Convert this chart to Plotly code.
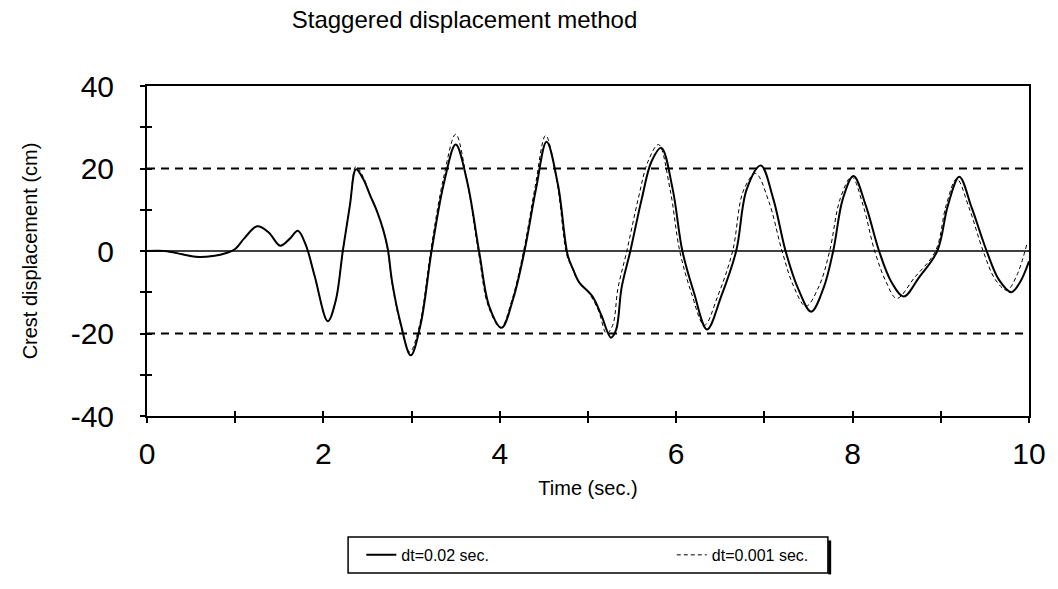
import plotly.graph_objects as go

# Crest displacement history, time step dt = 0.02 s
t_coarse = [0, 0.2, 0.4, 0.55, 0.75, 0.9, 1.0, 1.1, 1.25, 1.38, 1.51, 1.62, 1.71, 1.8, 1.9,
            2.05, 2.14, 2.22, 2.3, 2.37, 2.45, 2.53, 2.61, 2.68, 2.73, 2.78, 2.87, 2.99,
            3.1, 3.23, 3.37, 3.5, 3.63, 3.77, 3.88, 4.02, 4.15, 4.28, 4.41, 4.53, 4.66,
            4.77, 4.83, 4.9, 5.05, 5.15, 5.26, 5.32, 5.38, 5.48, 5.61, 5.72, 5.83, 5.96,
            6.07, 6.2, 6.35, 6.51, 6.68, 6.8, 6.96, 7.1, 7.24, 7.38, 7.53, 7.67, 7.78,
            7.89, 8.01, 8.15, 8.3, 8.44, 8.58, 8.75, 8.96, 9.08, 9.21, 9.35, 9.52, 9.66,
            9.8, 9.9, 10.0]
d_coarse = [0, 0, -0.8, -1.4, -1.2, -0.5, 0.5, 3, 6, 4.5, 1.3, 3, 4.9, 1.5, -6,
            -17, -12, 0, 11, 19.8, 17.5, 13.5, 9.5, 5, 0.5, -7.6, -17, -25.3,
            -18, 0.5, 16.8, 25.8, 16.8, -0.7, -13.4, -18.6, -11.7, 0, 15, 26.5, 16,
            -1, -4.4, -7.6, -11, -15.5, -21, -19, -9, 0, 12.7, 21.7, 25, 15,
            0, -10, -19, -11, 0, 15, 20.7, 12.7, 0, -9, -14.7, -9, 0,
            12.7, 18.2, 11, 0, -7.5, -11, -6.5, 0, 11, 18, 10.5, 0, -7,
            -10, -7.5, -2.5]

# Crest displacement history, time step dt = 0.001 s
t_fine = [0, 0.2, 0.4, 0.55, 0.75, 0.9, 1.0, 1.1, 1.25, 1.38, 1.51, 1.62, 1.71, 1.8, 1.9,
          2.05, 2.14, 2.22, 2.3, 2.37, 2.45, 2.53, 2.61, 2.68, 2.73, 2.78, 2.87, 2.98,
          3.09, 3.22, 3.36, 3.5, 3.62, 3.76, 3.87, 4.01, 4.14, 4.27, 4.4, 4.52, 4.65,
          4.76, 4.82, 4.88, 5.02, 5.12, 5.21, 5.28, 5.34, 5.44, 5.57, 5.68, 5.8, 5.93,
          6.04, 6.17, 6.32, 6.47, 6.64, 6.76, 6.9, 7.05, 7.2, 7.33, 7.47, 7.62, 7.74,
          7.86, 7.99, 8.12, 8.25, 8.38, 8.5, 8.7, 8.94, 9.06, 9.18, 9.32, 9.48, 9.62,
          9.75, 9.86, 9.98]
d_fine = [0, 0, -0.8, -1.4, -1.2, -0.5, 0.5, 3, 6, 4.5, 1.3, 3, 4.9, 1.5, -6,
          -17, -12, 0, 11, 20.5, 18, 13.5, 9.5, 5, 0, -8, -17.5, -24.5,
          -18, 0.5, 17.5, 28.3, 18, -0.5, -13.4, -18.6, -11.7, 0, 15.5, 28, 16.5,
          -1, -4, -7, -10.5, -14.5, -20, -18, -9, 0, 12.7, 21.7, 25.8, 15,
          0, -10, -18, -11, 0, 14.5, 18.8, 12, 0, -8.5, -13.4, -8.5, 0,
          12.7, 18, 11, 0, -7.5, -11.5, -6.5, 0, 11, 17.5, 10.5, 0, -7,
          -9.5, -6, 2]

# Reference levels: zero line and +/-20 cm limits
zero_level = [0]
limit_levels = [20, -20]
time_span = [0, 10]

x_ticks = [0, 2, 4, 6, 8, 10]
y_ticks = [-40, -20, 0, 20, 40]
y_tick_text = [str(v) for v in y_ticks]

FONT = "Liberation Sans, Arial, sans-serif"

fig = go.Figure()

fig.add_trace(go.Scatter(
    x=t_coarse, y=d_coarse, mode="lines", name="dt=0.02 sec.", legend="legend",
    line=dict(color="black", width=2, shape="spline", smoothing=1.0),
))
fig.add_trace(go.Scatter(
    x=t_fine, y=d_fine, mode="lines", name="dt=0.001 sec.", legend="legend2",
    line=dict(color="black", width=1, dash="4px,3px", shape="spline", smoothing=1.0),
))

# reference levels drawn on an overlay axis pair (which also carries the inner tick marks)
for lvl in zero_level:
    fig.add_trace(go.Scatter(
        x=time_span, y=[lvl, lvl], mode="lines", xaxis="x2", yaxis="y2",
        line=dict(color="black", width=1.5), showlegend=False, hoverinfo="skip",
    ))
for lvl in limit_levels:
    fig.add_trace(go.Scatter(
        x=time_span, y=[lvl, lvl], mode="lines", xaxis="x2", yaxis="y2",
        line=dict(color="black", width=1.8, dash="8px,6px"), showlegend=False,
        hoverinfo="skip",
    ))

axis_common = dict(showgrid=False, zeroline=False, color="black")
legend_common = dict(orientation="h", xanchor="left", y=-0.421, yanchor="middle",
                     borderwidth=0, bgcolor="rgba(0,0,0,0)", font=dict(size=16),
                     itemwidth=30)

# frame around the two legend entries, with a heavier right edge as a drop shadow
box_x0, box_x1 = 0.228, 0.772
box_y0, box_y1 = -0.476, -0.367
shapes = [
    dict(type="rect", xref="paper", yref="paper", x0=box_x0, x1=box_x1, y0=box_y0, y1=box_y1,
         line=dict(color="black", width=1.5), fillcolor="rgba(0,0,0,0)", layer="below"),
    dict(type="line", xref="paper", yref="paper", x0=box_x1 + 0.002, x1=box_x1 + 0.002,
         y0=box_y0 - 0.004, y1=box_y1 - 0.01, line=dict(color="black", width=3)),
]

fig.update_layout(
    width=1058, height=589,
    margin=dict(l=147, r=20, t=86, b=173),
    paper_bgcolor="white", plot_bgcolor="white",
    font=dict(family=FONT, color="black"),
    title=dict(text="Staggered displacement method", font=dict(size=24, family=FONT),
               x=0.36, xanchor="center", y=0.966, yanchor="middle", xref="paper"),
    xaxis=dict(range=[0, 10], tickvals=x_ticks, ticks="outside", ticklen=5, tickwidth=1.5,
               minor=dict(dtick=1, ticks="outside", ticklen=5, tickwidth=1.5),
               showline=True, linewidth=2, linecolor="black", mirror=True,
               tickfont=dict(size=30), ticklabelstandoff=5,
               title=dict(text="Time (sec.)", font=dict(size=20), standoff=12),
               **axis_common),
    yaxis=dict(range=[-40, 40], tickvals=y_ticks, ticktext=y_tick_text, ticks="outside",
               ticklen=5, tickwidth=1.5,
               minor=dict(dtick=10, ticks="outside", ticklen=5, tickwidth=1.5),
               showline=True, linewidth=2, linecolor="black", mirror=True,
               tickfont=dict(size=30), ticklabelstandoff=20,
               title=dict(text="Crest displacement (cm)", font=dict(size=20), standoff=28),
               **axis_common),
    xaxis2=dict(range=[0, 10], overlaying="x", anchor="y2", side="bottom", dtick=1,
                ticks="inside", ticklen=5, tickwidth=1.5, showticklabels=False,
                showline=False, **axis_common),
    yaxis2=dict(range=[-40, 40], overlaying="y", anchor="x2", side="left", dtick=10,
                ticks="inside", ticklen=5, tickwidth=1.5, showticklabels=False,
                showline=False, **axis_common),
    legend=dict(x=0.243, **legend_common),
    legend2=dict(x=0.595, **legend_common),
    shapes=shapes,
    showlegend=True,
)

fig.write_html("out.html")
